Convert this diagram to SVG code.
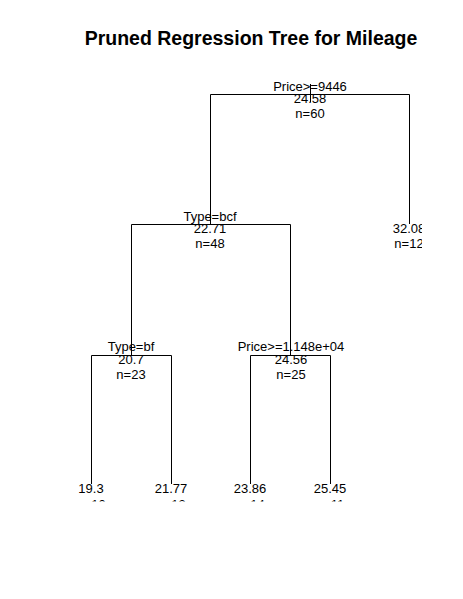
<svg xmlns="http://www.w3.org/2000/svg" width="463" height="599" viewBox="0 0 463 599">
<defs>
<style>
.t{font-family:"Liberation Sans",Arial,sans-serif;font-size:13px;fill:#000;text-anchor:middle}
.title{font-family:"Liberation Sans",Arial,sans-serif;font-size:19.5px;font-weight:bold;fill:#000;text-anchor:middle}
.e{stroke:#000;stroke-width:1;fill:none}
</style>
<clipPath id="plot"><rect x="0" y="0" width="422" height="501.5"/></clipPath>
</defs>
<rect x="0" y="0" width="463" height="599" fill="#fff"/>
<text class="title" x="251" y="45">Pruned Regression Tree for Mileage</text>
<g clip-path="url(#plot)">
<g id="connectors">
<path class="e" d="M210.5,224 V94.5 H409.5 V224"/>
<path class="e" d="M310.5,84 V102"/>
<path class="e" d="M131.5,355 V224.5 H290.5 V355"/>
<path class="e" d="M91.5,484 V355.5 H171.5 V484"/>
<path class="e" d="M250.5,484 V355.5 H330.5 V484"/>
</g>
<g id="root"><text class="t" x="310" y="91">Price&gt;=9446</text><text class="t" x="310" y="102.5">24.58</text><text class="t" x="310" y="117.5">n=60</text></g>
<g id="n2"><text class="t" x="210" y="221">Type=bcf</text><text class="t" x="210" y="232.5">22.71</text><text class="t" x="210" y="247.5">n=48</text></g>
<g id="n3"><text class="t" x="409" y="232.5">32.08</text><text class="t" x="409" y="247.5">n=12</text></g>
<g id="n4"><text class="t" x="131" y="351">Type=bf</text><text class="t" x="131" y="363.5">20.7</text><text class="t" x="131" y="378.5">n=23</text></g>
<g id="n5"><text class="t" x="291" y="351">Price&gt;=1.148e+04</text><text class="t" x="291" y="363.5">24.56</text><text class="t" x="291" y="378.5">n=25</text></g>
<g id="n8"><text class="t" x="91" y="492.5">19.3</text><text class="t" x="91" y="508.5">n=10</text></g>
<g id="n9"><text class="t" x="171" y="492.5">21.77</text><text class="t" x="171" y="508.5">n=13</text></g>
<g id="n10"><text class="t" x="250" y="492.5">23.86</text><text class="t" x="250" y="508.5">n=14</text></g>
<g id="n11"><text class="t" x="330" y="492.5">25.45</text><text class="t" x="330" y="508.5">n=11</text></g>
</g>
</svg>
